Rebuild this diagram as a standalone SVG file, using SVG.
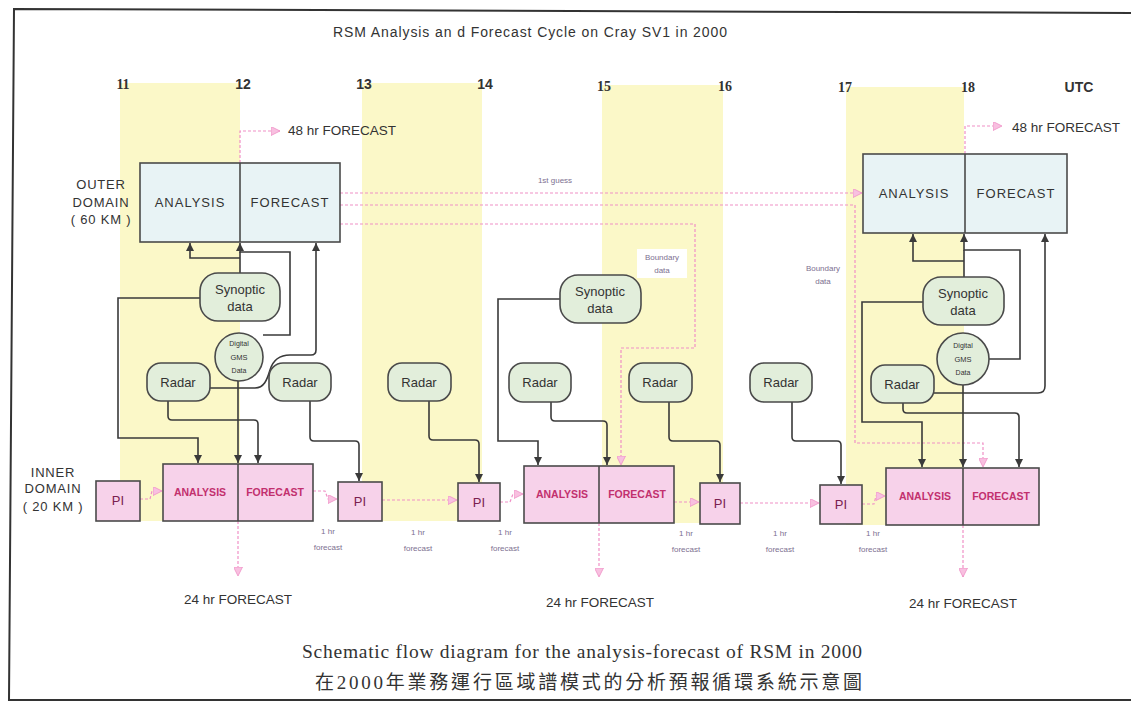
<svg xmlns="http://www.w3.org/2000/svg" width="1131" height="702" viewBox="0 0 1131 702">
<defs>
<style>
.t{font-family:"Liberation Sans",Arial,sans-serif;fill:#333}
.serif{font-family:"Liberation Serif","Times New Roman",serif;fill:#333}
.box{stroke:#4a4a4a;stroke-width:1.6}
.outer{fill:#e8f3f5}
.inner{fill:#f7d2ea}
.green{fill:#e2eedb;stroke:#4a4a4a;stroke-width:1.6}
.dk{fill:none;stroke:#3a3a3a;stroke-width:1.6;marker-end:url(#ad)}
.pk{fill:none;stroke:#f090c6;stroke-width:1.2;stroke-dasharray:3 2;marker-end:url(#ap)}
.band{fill:#fbf8c8}
.tiny{font-family:"Liberation Sans",Arial,sans-serif;font-size:8px;fill:#7d7090;text-anchor:middle}
.lbl{font-family:"Liberation Sans",Arial,sans-serif;font-size:13px;fill:#333;text-anchor:middle}
.ib{font-family:"Liberation Sans",Arial,sans-serif;font-size:10.5px;font-weight:bold;fill:#c2306e;text-anchor:middle}
.pi{font-family:"Liberation Sans",Arial,sans-serif;font-size:13px;fill:#7a2050;text-anchor:middle}
.fc{font-family:"Liberation Sans",Arial,sans-serif;font-size:13.5px;fill:#333}
.num{font-size:14px;font-weight:bold;text-anchor:middle}
</style>
<marker id="ad" viewBox="0 0 8 8" refX="8" refY="4" markerWidth="8" markerHeight="8" markerUnits="userSpaceOnUse" orient="auto"><path d="M0,0 L8,4 L0,8 z" fill="#3a3a3a"/></marker>
<marker id="ap" viewBox="0 0 9 9" refX="9" refY="4.5" markerWidth="9" markerHeight="9" markerUnits="userSpaceOnUse" orient="auto"><path d="M0,0 L9,4.5 L0,9 z" fill="#f8c0e0" stroke="#f090c6" stroke-width="0.8"/></marker>
</defs>
<rect width="1131" height="702" fill="#ffffff"/>
<!-- frame -->
<path d="M1131,13 L14,9 L9,700 L1131,700" fill="none" stroke="#333" stroke-width="2"/>
<!-- yellow bands -->
<rect class="band" x="120" y="83" width="120" height="438"/>
<rect class="band" x="362" y="83" width="120" height="438"/>
<rect class="band" x="602" y="85" width="121" height="438"/>
<rect class="band" x="846" y="87" width="118" height="438"/>

<!-- title and time axis -->
<text class="t" x="333" y="37" font-size="14" textLength="394">RSM Analysis an d Forecast Cycle on Cray SV1 in 2000</text>
<text class="serif num" x="123" y="89">11</text>
<text class="t num" x="243" y="89">12</text>
<text class="t num" x="364" y="89">13</text>
<text class="t num" x="485" y="89">14</text>
<text class="serif num" x="604" y="91">15</text>
<text class="serif num" x="725" y="91">16</text>
<text class="serif num" x="845" y="92">17</text>
<text class="serif num" x="968" y="92">18</text>
<text class="t num" x="1079" y="92" font-size="13">UTC</text>

<!-- domain labels -->
<g id="outer-domain-label" class="lbl" style="letter-spacing:0.8px">
<text class="lbl" x="101" y="189">OUTER</text>
<text class="lbl" x="101" y="207">DOMAIN</text>
<text class="lbl" x="101" y="224">( 60 KM )</text>
</g>
<g id="inner-domain-label">
<text class="lbl" x="53" y="477" style="letter-spacing:0.8px">INNER</text>
<text class="lbl" x="53" y="493" style="letter-spacing:0.8px">DOMAIN</text>
<text class="lbl" x="53" y="511" style="letter-spacing:0.8px">( 20 KM )</text>
</g>

<!-- connectors -->
<g id="connectors">
<!-- pink: 48 hr, 1st guess, boundary -->
<path class="pk" d="M240,163 L240,131 L280,131"/>
<path class="pk" d="M965,154 L965,126 L1002,126"/>
<path class="pk" d="M340,193 L862,193"/>
<path class="pk" d="M340,205 L855,205 L855,443 L983,443 L983,467"/>
<path class="pk" d="M340,224 L695,224 L695,348 L621,348 L621,465"/>
<!-- pink: inner chain -->
<path class="pk" d="M140,499 L150,499 L152,491 L162,491"/>
<path class="pk" d="M313,491 L325,491 L328,499 L337,499"/>
<path class="pk" d="M382,500 L457,500"/>
<path class="pk" d="M500,502 L510,502 L513,494 L523,494"/>
<path class="pk" d="M674,502 L699,502"/>
<path class="pk" d="M740,503 L819,503"/>
<path class="pk" d="M862,504 L874,504 L876,496 L885,496"/>
<!-- pink: 24 hr -->
<path class="pk" d="M238,521 L238,576"/>
<path class="pk" d="M599,523 L599,577"/>
<path class="pk" d="M963,525 L963,577"/>
<!-- dark: group 1 -->
<path class="dk" d="M240,273 L240,252 M240,258 L190,258 L190,243"/>
<path class="dk" d="M263,335 L290,335 L290,252 L240,252 L240,243"/>
<path class="dk" d="M210,388 L255,388 C264,388 267,380 270,370 C273,360 279,355 290,355 L311,355 Q316,355 316,350 L316,243"/>
<path class="dk" d="M200,298 L118,298 L118,438 L198,438 L198,463"/>
<path class="dk" d="M238,381 L238,463"/>
<path class="dk" d="M168,401 L168,416 Q168,420 172,420 L254,420 Q258,420 258,424 L258,463"/>
<path class="dk" d="M310,401 L310,437 Q310,441 314,441 L355,441 Q359,441 359,445 L359,481"/>
<path class="dk" d="M429,401 L429,436 Q429,440 433,440 L475,440 Q479,440 479,444 L479,482"/>
<!-- dark: group 2 -->
<path class="dk" d="M560,299 L498,299 L498,441 L538,441 L538,465"/>
<path class="dk" d="M551,402 L551,417 Q551,421 555,421 L603,421 Q607,421 607,425 L607,465"/>
<path class="dk" d="M669,402 L669,437 Q669,441 673,441 L716,441 Q720,441 720,445 L720,482"/>
<path class="dk" d="M792,402 L792,437 Q792,441 796,441 L837,441 Q841,441 841,445 L841,484"/>
<!-- dark: group 3 -->
<path class="dk" d="M964,277 L964,250 M964,261 L913,261 L913,234"/>
<path class="dk" d="M989,359 L1020,359 L1020,250 L964,250 L964,234"/>
<path class="dk" d="M934,393 L1038,393 Q1045,393 1045,386 L1045,234"/>
<path class="dk" d="M923,302 L862,302 L862,422 L922,422 L922,467"/>
<path class="dk" d="M963,385 L963,467"/>
<path class="dk" d="M903,403 L903,409 Q903,413 907,413 L1015,413 Q1019,413 1019,417 L1019,467"/>
</g>

<!-- connector labels -->
<text class="tiny" x="555" y="183">1st guess</text>
<rect x="637" y="249" width="50" height="29" fill="#ffffff"/>
<text class="tiny" x="662" y="260">Boundary</text>
<text class="tiny" x="662" y="273">data</text>
<text class="tiny" x="823" y="271">Boundary</text>
<text class="tiny" x="823" y="284">data</text>
<g class="tiny">
<text class="tiny" x="328" y="534">1 hr</text><text class="tiny" x="328" y="550">forecast</text>
<text class="tiny" x="418" y="535">1 hr</text><text class="tiny" x="418" y="551">forecast</text>
<text class="tiny" x="505" y="535">1 hr</text><text class="tiny" x="505" y="551">forecast</text>
<text class="tiny" x="686" y="536">1 hr</text><text class="tiny" x="686" y="552">forecast</text>
<text class="tiny" x="780" y="536">1 hr</text><text class="tiny" x="780" y="552">forecast</text>
<text class="tiny" x="873" y="536">1 hr</text><text class="tiny" x="873" y="552">forecast</text>
</g>
<text class="fc" x="288" y="135">48 hr FORECAST</text>
<text class="fc" x="1012" y="132">48 hr FORECAST</text>
<text class="fc" x="238" y="604" text-anchor="middle">24 hr FORECAST</text>
<text class="fc" x="600" y="607" text-anchor="middle">24 hr FORECAST</text>
<text class="fc" x="963" y="608" text-anchor="middle">24 hr FORECAST</text>

<!-- outer domain boxes -->
<g id="outer-1">
<rect class="box outer" x="140" y="163" width="200" height="79"/>
<line class="box" x1="240" y1="163" x2="240" y2="242"/>
<text class="lbl" x="190" y="207" style="letter-spacing:1px">ANALYSIS</text>
<text class="lbl" x="290" y="207" style="letter-spacing:1px">FORECAST</text>
</g>
<g id="outer-2">
<rect class="box outer" x="863" y="154" width="204" height="79"/>
<line class="box" x1="965" y1="154" x2="965" y2="233"/>
<text class="lbl" x="914" y="198" style="letter-spacing:1px">ANALYSIS</text>
<text class="lbl" x="1016" y="198" style="letter-spacing:1px">FORECAST</text>
</g>

<!-- data nodes -->
<g id="synoptic-1"><rect class="green" x="200" y="273" width="80" height="48" rx="18"/><text class="lbl" x="240" y="294">Synoptic</text><text class="lbl" x="240" y="311">data</text></g>
<g id="synoptic-2"><rect class="green" x="560" y="275" width="81" height="48" rx="18"/><text class="lbl" x="600" y="296">Synoptic</text><text class="lbl" x="600" y="313">data</text></g>
<g id="synoptic-3"><rect class="green" x="923" y="277" width="81" height="48" rx="18"/><text class="lbl" x="963" y="298">Synoptic</text><text class="lbl" x="963" y="315">data</text></g>
<g id="gms-1"><circle class="green" cx="239" cy="357" r="24"/><text class="t" x="239" y="346" font-size="7" text-anchor="middle">Digital</text><text class="t" x="239" y="360" font-size="7.5" text-anchor="middle">GMS</text><text class="t" x="239" y="373" font-size="7" text-anchor="middle">Data</text></g>
<g id="gms-2"><circle class="green" cx="963" cy="359" r="26"/><text class="t" x="963" y="348" font-size="7" text-anchor="middle">Digital</text><text class="t" x="963" y="362" font-size="7.5" text-anchor="middle">GMS</text><text class="t" x="963" y="375" font-size="7" text-anchor="middle">Data</text></g>
<g id="radar-1"><rect class="green" x="147" y="363" width="63" height="38" rx="14"/><text class="lbl" x="178" y="387">Radar</text></g>
<g id="radar-2"><rect class="green" x="269" y="363" width="62" height="38" rx="14"/><text class="lbl" x="300" y="387">Radar</text></g>
<g id="radar-3"><rect class="green" x="388" y="363" width="63" height="38" rx="14"/><text class="lbl" x="419" y="387">Radar</text></g>
<g id="radar-4"><rect class="green" x="509" y="363" width="62" height="39" rx="14"/><text class="lbl" x="540" y="387">Radar</text></g>
<g id="radar-5"><rect class="green" x="629" y="363" width="63" height="39" rx="14"/><text class="lbl" x="660" y="387">Radar</text></g>
<g id="radar-6"><rect class="green" x="750" y="363" width="62" height="39" rx="14"/><text class="lbl" x="781" y="387">Radar</text></g>
<g id="radar-7"><rect class="green" x="871" y="365" width="63" height="38" rx="14"/><text class="lbl" x="902" y="389">Radar</text></g>

<!-- inner domain boxes -->
<g id="pi-1"><rect class="box inner" x="96" y="481" width="44" height="40"/><text class="pi" x="118" y="505">PI</text></g>
<g id="inner-1"><rect class="box inner" x="163" y="464" width="150" height="57"/><line class="box" x1="238" y1="464" x2="238" y2="521"/><text class="ib" x="200" y="496">ANALYSIS</text><text class="ib" x="275" y="496">FORECAST</text></g>
<g id="pi-2"><rect class="box inner" x="338" y="482" width="44" height="39"/><text class="pi" x="360" y="506">PI</text></g>
<g id="pi-3"><rect class="box inner" x="458" y="483" width="42" height="38"/><text class="pi" x="479" y="507">PI</text></g>
<g id="inner-2"><rect class="box inner" x="524" y="466" width="150" height="57"/><line class="box" x1="599" y1="466" x2="599" y2="523"/><text class="ib" x="562" y="498">ANALYSIS</text><text class="ib" x="637" y="498">FORECAST</text></g>
<g id="pi-4"><rect class="box inner" x="700" y="483" width="40" height="41"/><text class="pi" x="720" y="508">PI</text></g>
<g id="pi-5"><rect class="box inner" x="820" y="485" width="42" height="39"/><text class="pi" x="841" y="509">PI</text></g>
<g id="inner-3"><rect class="box inner" x="886" y="468" width="153" height="57"/><line class="box" x1="963" y1="468" x2="963" y2="525"/><text class="ib" x="925" y="500">ANALYSIS</text><text class="ib" x="1001" y="500">FORECAST</text></g>

<!-- caption -->
<text class="serif" x="302" y="658" font-size="19.5" textLength="560">Schematic flow diagram for the analysis-forecast of RSM in 2000</text>
<text x="315" y="689" font-size="19" textLength="547" font-family="'Liberation Serif','Noto Sans CJK TC',serif" fill="#333">在2000年業務運行區域譜模式的分析預報循環系統示意圖</text>
</svg>
